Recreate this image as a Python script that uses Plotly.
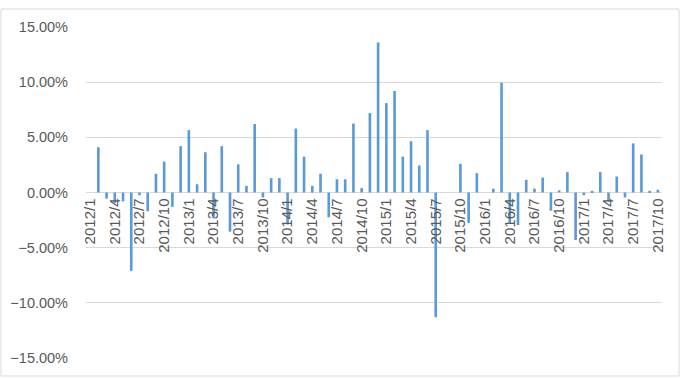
import plotly.graph_objects as go

years = [2012, 2013, 2014, 2015, 2016, 2017]
months = [f"{y}/{m}" for y in years for m in range(1, 13)][:70]  # 2012/1 .. 2017/10

# monthly return, in percent (2012/1 has no value)
returns_pct = [None, 4.1, -0.55, -0.95, -0.8, -7.1, -0.25, -1.7, 1.7, 2.8, -1.3, 4.2,
               5.65, 0.75, 3.65, -2.35, 4.2, -3.55, 2.55, 0.6, 6.2, -0.45, 1.3, 1.3,
               -2.9, 5.8, 3.25, 0.6, 1.7, -2.25, 1.2, 1.2, 6.25, 0.4, 7.2, 13.6,
               8.1, 9.2, 3.25, 4.65, 2.45, 5.65, -11.3, 0, 0, 2.6, -2.75, 1.75,
               0, 0.35, 9.95, -2.8, -2.95, 1.15, 0.35, 1.35, -1.65, 0.2, 1.85, -4.3,
               -0.25, 0.15, 1.85, -0.8, 1.45, -0.45, 4.45, 3.45, 0.15, 0.25]

tick_labels = months[::3]
y_ticks = [-0.15, -0.10, -0.05, 0, 0.05, 0.10, 0.15]

yvals = [None if v is None else v / 100 for v in returns_pct]

fig = go.Figure(go.Bar(x=months, y=yvals, marker=dict(color="#5B9BD5", line=dict(width=0))))

font_color = "#595959"
fig.update_layout(
    width=684, height=378,
    margin=dict(l=86, r=22, t=27, b=20),
    paper_bgcolor="white", plot_bgcolor="white",
    bargap=0.68,
    showlegend=False,
    font=dict(family="Liberation Sans, Arial, sans-serif", color=font_color),
    xaxis=dict(
        type="category", categoryorder="array", categoryarray=months,
        tickmode="array", tickvals=tick_labels, ticktext=tick_labels,
        tickangle=-90, tickfont=dict(size=15, color=font_color),
        anchor="free", position=0.5, automargin=False,
        showgrid=False, showline=False, zeroline=False, ticks="",
        ticklabelstandoff=2,
        range=[-0.5, len(months) - 0.5],
    ),
    yaxis=dict(
        range=[-0.15, 0.15], tickvals=y_ticks, tickformat=".2%",
        tickfont=dict(size=14.5, color=font_color), automargin=False,
        showgrid=True, gridcolor="#D9D9D9", gridwidth=1,
        zeroline=True, zerolinecolor="#D9D9D9", zerolinewidth=1,
        showline=False, ticks="", ticklabelstandoff=17,
    ),
    shapes=[dict(type="rect", xref="paper", yref="paper",
                 x0=(1 - 86) / 576, x1=(679 - 86) / 576,
                 y0=(358 - 376) / 331, y1=(358 - 9) / 331,
                 line=dict(color="#D9D9D9", width=1), layer="below")],
)

fig.write_html("out.html")
